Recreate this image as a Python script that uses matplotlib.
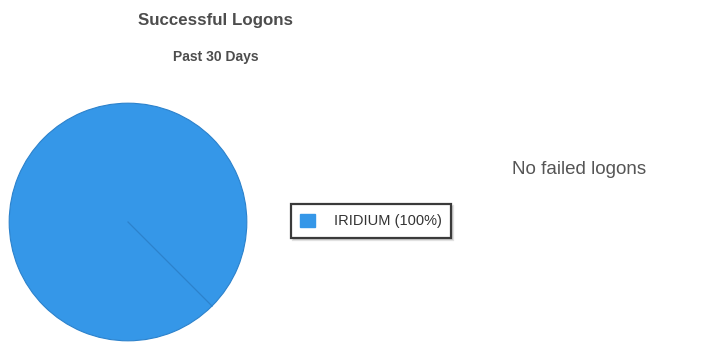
import matplotlib
matplotlib.use("Agg")
import numpy as np
import matplotlib.pyplot as plt
from matplotlib.patches import Patch

labels = ["IRIDIUM"]
values = [100]
title = "Successful Logons"
subtitle = "Past 30 Days"
side_note = "No failed logons"

W, H = 702, 347
fig = plt.figure(figsize=(W / 100, H / 100), dpi=100)
plt.rcParams['font.family'] = ['Liberation Sans', 'DejaVu Sans']

# pie axes: center ~ (128, 222) px, radius ~120 px
cx, cy, r = 128, 222, 120
ax = fig.add_axes([(cx - r) / W, (H - cy - r) / H, 2 * r / W, 2 * r / H])
color = '#3597E8'
edge = '#2C82CC'
wedges, _ = ax.pie(values, colors=[color], startangle=-45, radius=1,
                   wedgeprops=dict(edgecolor=edge, linewidth=0.8))
# slice boundary line (full-circle wedge has no radial edge drawn)
for w in wedges:
    t = np.deg2rad(w.theta1)
    ax.plot([w.center[0], w.center[0] + w.r * np.cos(t)],
            [w.center[1], w.center[1] + w.r * np.sin(t)],
            color=edge, linewidth=0.9)
ax.set_xlim(-1.01, 1.01)
ax.set_ylim(-1.01, 1.01)
ax.set_aspect('equal')
ax.axis('off')

fig.text(216 / W, 1 - 20 / H, title, ha='center', va='center',
         fontsize=12.2, fontweight='bold', color='#4d4d4d')
fig.text(216 / W, 1 - 57 / H, subtitle, ha='center', va='center',
         fontsize=10, fontweight='bold', color='#4d4d4d')

total = sum(values)
handles = [Patch(facecolor=color, edgecolor=color) for _ in labels]
leg_labels = [f"{l} ({v / total * 100:.0f}%)" for l, v in zip(labels, values)]
leg = fig.legend(handles, leg_labels, loc='center left',
                 bbox_to_anchor=(291 / W, 1 - 221 / H), fancybox=False,
                 fontsize=10.5, frameon=True, handlelength=1.0, handleheight=1.0,
                 borderpad=0.65, handletextpad=1.3, labelcolor='#333333',
                 borderaxespad=0,
                 shadow=dict(ox=1.5, oy=-1.5, alpha=0.25, color='#888888'))
leg.get_frame().set_edgecolor('#3a3a3a')
leg.get_frame().set_linewidth(1.6)

fig.text(512 / W, 1 - 169 / H, side_note, ha='left', va='center',
         fontsize=13.5, color='#555555')

fig.savefig('out.png', dpi=100)
